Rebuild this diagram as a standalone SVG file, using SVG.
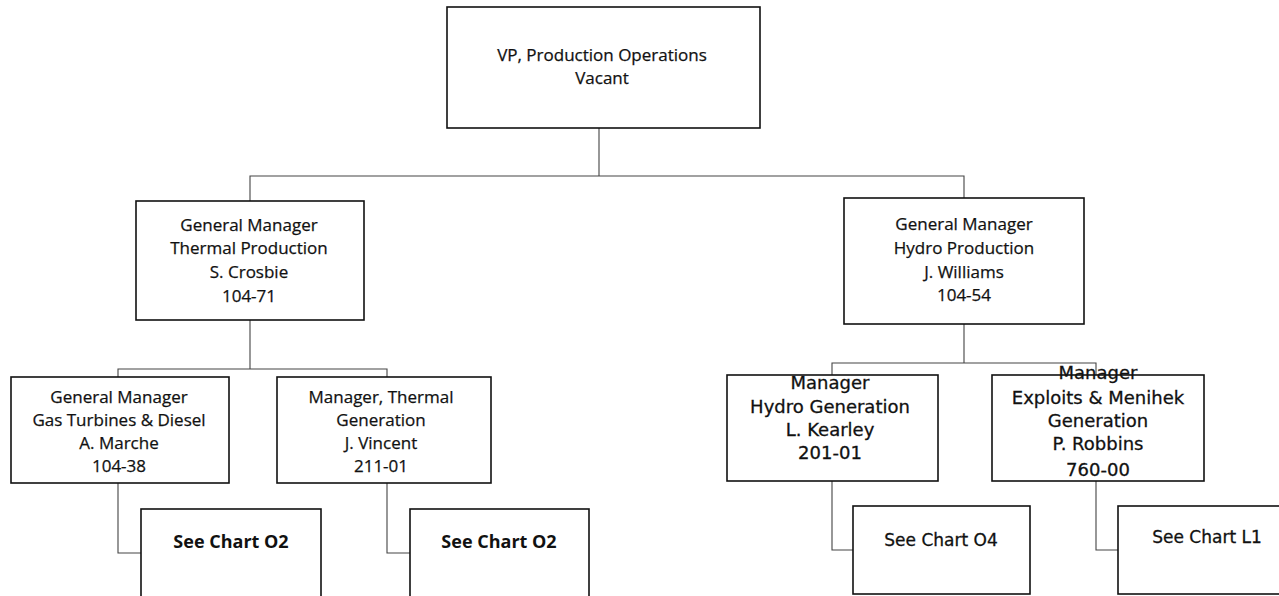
<svg xmlns="http://www.w3.org/2000/svg" width="1279" height="596" viewBox="0 0 1279 596">
<style>
  .box{fill:#fff;stroke:#111;stroke-width:1.6}
  .conn{fill:none;stroke:#444;stroke-width:1.1}
  .c{font-family:"Open Sans","Liberation Sans",sans-serif;font-size:17px;fill:#111;stroke:#111;stroke-width:0.25;text-anchor:middle}
  .cb{font-family:"Open Sans","Liberation Sans",sans-serif;font-size:18px;font-weight:bold;fill:#111;text-anchor:middle}
  .a{font-family:"DejaVu Sans","Liberation Sans",sans-serif;font-size:18px;fill:#111;stroke:#111;stroke-width:0.3;text-anchor:middle}
  .ab{font-family:"DejaVu Sans","Liberation Sans",sans-serif;font-size:17px;fill:#111;stroke:#111;stroke-width:0.3;text-anchor:middle}
</style>
<rect width="1279" height="596" fill="#fff"/>
<g id="connectors">
  <path class="conn" d="M599 128 V176 M250 201 V176 H964 V198"/>
  <path class="conn" d="M250 320 V369 M118 377 V369 H387 V377"/>
  <path class="conn" d="M964 324 V363 M832 375 V363 H1096 V375"/>
  <path class="conn" d="M118 483 V553 H141"/>
  <path class="conn" d="M387 483 V553 H410"/>
  <path class="conn" d="M832 481 V550 H853"/>
  <path class="conn" d="M1096 481 V550 H1118"/>
</g>
<g id="vp">
  <rect class="box" x="447" y="7" width="313" height="121"/>
  <text class="c" x="602" y="61">VP, Production Operations</text>
  <text class="c" x="602" y="84">Vacant</text>
</g>
<g id="gm-thermal">
  <rect class="box" x="136" y="201" width="228" height="119"/>
  <text class="c" x="249" y="231">General Manager</text>
  <text class="c" x="249" y="254">Thermal Production</text>
  <text class="c" x="249" y="278">S. Crosbie</text>
  <text class="c" x="249" y="302">104-71</text>
</g>
<g id="gm-hydro">
  <rect class="box" x="844" y="198" width="240" height="126"/>
  <text class="c" x="964" y="230">General Manager</text>
  <text class="c" x="964" y="254">Hydro Production</text>
  <text class="c" x="964" y="278">J. Williams</text>
  <text class="c" x="964" y="301">104-54</text>
</g>
<g id="gm-gas">
  <rect class="box" x="11" y="377" width="218" height="106"/>
  <text class="c" x="119" y="403">General Manager</text>
  <text class="c" x="119" y="426">Gas Turbines &amp; Diesel</text>
  <text class="c" x="119" y="449">A. Marche</text>
  <text class="c" x="119" y="472">104-38</text>
</g>
<g id="mgr-thermal">
  <rect class="box" x="277" y="377" width="214" height="106"/>
  <text class="c" x="381" y="403">Manager, Thermal</text>
  <text class="c" x="381" y="426">Generation</text>
  <text class="c" x="381" y="449">J. Vincent</text>
  <text class="c" x="381" y="472">211-01</text>
</g>
<g id="mgr-hydro">
  <rect class="box" x="727" y="375" width="211" height="106"/>
  <text class="a" x="830" y="389">Manager</text>
  <text class="a" x="830" y="413">Hydro Generation</text>
  <text class="a" x="830" y="436">L. Kearley</text>
  <text class="a" x="830" y="459">201-01</text>
</g>
<g id="mgr-exploits">
  <rect class="box" x="992" y="375" width="212" height="106"/>
  <text class="a" x="1098" y="379">Manager</text>
  <text class="a" x="1098" y="404">Exploits &amp; Menihek</text>
  <text class="a" x="1098" y="427">Generation</text>
  <text class="a" x="1098" y="450">P. Robbins</text>
  <text class="a" x="1098" y="476">760-00</text>
</g>
<g id="chart-o2-a">
  <rect class="box" x="141" y="509" width="180" height="92"/>
  <text class="cb" x="231" y="548">See Chart O2</text>
</g>
<g id="chart-o2-b">
  <rect class="box" x="410" y="509" width="179" height="92"/>
  <text class="cb" x="499" y="548">See Chart O2</text>
</g>
<g id="chart-o4">
  <rect class="box" x="853" y="506" width="177" height="88"/>
  <text class="ab" x="941" y="546">See Chart O4</text>
</g>
<g id="chart-l1">
  <rect class="box" x="1118" y="506" width="180" height="88"/>
  <text class="ab" x="1207" y="543">See Chart L1</text>
</g>
</svg>
